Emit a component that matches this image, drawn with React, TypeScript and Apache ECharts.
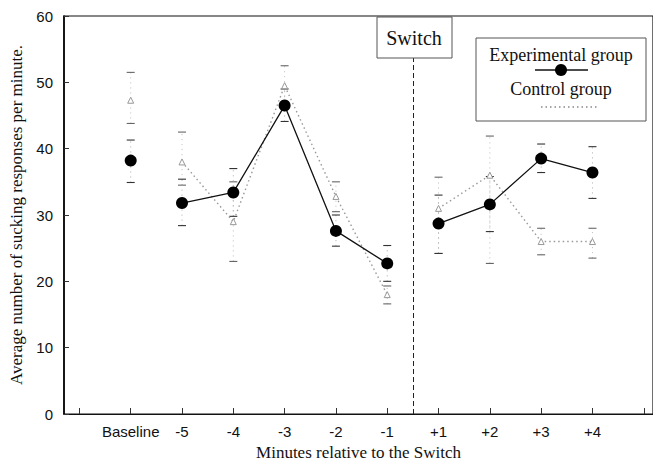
import React, { useEffect, useRef } from "react";
import * as echarts from "echarts";

// Category positions on the x scale (Baseline = 0, -5 = 1, ... -1 = 5, +1 = 6 ... +4 = 9)
const xPositions = [0, 1, 2, 3, 4, 5, 6, 7, 8, 9];
const xLabels = ["Baseline", "-5", "-4", "-3", "-2", "-1", "+1", "+2", "+3", "+4"];
const xTickValues = [-1, 0, 1, 2, 3, 4, 5, 6, 7, 8, 9, 10];
const switchAt = 5.5;

const experimental = [38.2, 31.8, 33.4, 46.5, 27.6, 22.7, 28.7, 31.6, 38.5, 36.4];
const expLow = [34.9, 28.4, 29.8, 44.1, 25.3, 20.0, 24.2, 27.5, 36.4, 32.5];
const expHigh = [41.3, 35.4, 37.0, 49.0, 30.0, 25.4, 33.0, 35.8, 40.7, 40.3];

const control = [47.3, 38.0, 29.0, 49.5, 32.8, 18.0, 31.0, 36.0, 26.0, 26.0];
const ctlLow = [43.8, 34.5, 23.0, 47.0, 30.5, 16.6, 24.2, 22.7, 24.0, 23.5];
const ctlHigh = [51.5, 42.5, 35.0, 52.5, 35.0, 19.3, 35.7, 41.9, 28.0, 28.0];

const serif = "'Liberation Serif', 'Times New Roman', serif";
const sans = "'Liberation Sans', Arial, sans-serif";

function withBreaks(vals: number[]) {
  const out: any[] = [];
  vals.forEach((v, i) => {
    out.push([xPositions[i], v]);
    if (i === 0) out.push([0.5, "-"]);
    if (i === 5) out.push([switchAt, "-"]);
  });
  return out;
}

function errData(lo: number[], hi: number[]) {
  return xPositions.map((x, i) => [x, lo[i], hi[i]]);
}

function errRender(color: string, dotColor: string) {
  return (params: any, api: any) => {
    const x = api.value(0);
    const pLo = api.coord([x, api.value(1)]);
    const pHi = api.coord([x, api.value(2)]);
    const w = 4;
    return {
      type: "group",
      children: [
        {
          type: "line",
          shape: { x1: pLo[0], y1: pLo[1], x2: pHi[0], y2: pHi[1] },
          style: { stroke: dotColor, lineWidth: 1, lineDash: [1, 4] },
        },
        {
          type: "line",
          shape: { x1: pLo[0] - w, y1: pLo[1], x2: pLo[0] + w, y2: pLo[1] },
          style: { stroke: color, lineWidth: 1.1 },
        },
        {
          type: "line",
          shape: { x1: pHi[0] - w, y1: pHi[1], x2: pHi[0] + w, y2: pHi[1] },
          style: { stroke: color, lineWidth: 1.1 },
        },
      ],
    };
  };
}

export default function App() {
  const ref = useRef<HTMLDivElement>(null);
  useEffect(() => {
    if (!ref.current) return;
    const chart = echarts.init(ref.current, undefined, { renderer: "svg" });
    const xMin = -1.3;
    const xMax = 10.18;
    chart.setOption({
      animation: false,
      backgroundColor: "#fff",
      grid: {
        left: 64,
        right: 0,
        top: 16,
        bottom: 46,
        show: true,
        borderColor: "#111",
        borderWidth: 1.2,
        backgroundColor: "transparent",
      },
      xAxis: {
        type: "value",
        min: xMin,
        max: xMax,
        splitLine: { show: false },
        axisLine: { show: true, onZero: false, lineStyle: { color: "#111", width: 1.2 } },
        axisTick: {
          show: true,
          inside: true,
          length: 6,
          customValues: xTickValues,
          lineStyle: { color: "#333" },
        },
        axisLabel: {
          customValues: xPositions,
          formatter: (v: number) => {
            const i = xPositions.indexOf(Math.round(v));
            return i >= 0 ? xLabels[i] : "";
          },
          fontFamily: sans,
          fontSize: 15,
          color: "#111",
          margin: 10,
        },
        name: "Minutes relative to the Switch",
        nameLocation: "middle",
        nameGap: 30,
        nameTextStyle: { fontFamily: serif, fontSize: 17, color: "#111" },
      },
      yAxis: {
        type: "value",
        position: "left",
        min: 0,
        max: 60,
        interval: 10,
        splitLine: { show: false },
        axisLine: { show: true, onZero: false, lineStyle: { color: "#000", width: 1.6 } },
        axisTick: { show: true, inside: true, length: 5, lineStyle: { color: "#333" } },
        axisLabel: { fontFamily: sans, fontSize: 15, color: "#111", margin: 11 },
        name: "Average number of sucking responses per minute.",
        nameLocation: "middle",
        nameRotate: 90,
        nameGap: 38,
        nameTextStyle: { fontFamily: serif, fontSize: 17, color: "#111" },
      },
      series: [
        {
          type: "custom",
          name: "ctlErr",
          renderItem: errRender("#666", "#bbb"),
          data: errData(ctlLow, ctlHigh),
          z: 1,
        },
        {
          type: "custom",
          name: "expErr",
          renderItem: errRender("#333", "#aaa"),
          data: errData(expLow, expHigh),
          z: 1,
        },
        {
          type: "line",
          name: "Control group",
          data: withBreaks(control),
          connectNulls: false,
          symbol: "triangle",
          symbolSize: 6,
          itemStyle: { color: "#fff", borderColor: "#999", borderWidth: 1 },
          lineStyle: { color: "#999", width: 1.4, type: [1.5, 3] },
          z: 2,
        },
        {
          type: "line",
          name: "Experimental group",
          data: withBreaks(experimental),
          connectNulls: false,
          symbol: "circle",
          symbolSize: 12,
          itemStyle: { color: "#000" },
          lineStyle: { color: "#111", width: 1.3 },
          z: 3,
          markLine: {
            silent: true,
            symbol: "none",
            label: { show: false },
            lineStyle: { type: [5, 3], color: "#222", width: 1 },
            data: [[{ coord: [switchAt, 0] }, { coord: [switchAt, 53.8] }]],
          },
        },
      ],
      graphic: [
        {
          type: "rect",
          shape: { x: 377, y: 17, width: 75, height: 41 },
          style: { fill: "#fff", stroke: "#555", lineWidth: 1 },
          z: 10,
        },
        {
          type: "text",
          x: 414,
          y: 38,
          style: {
            text: "Switch",
            font: `20px ${serif}`,
            fill: "#111",
            align: "center",
            verticalAlign: "middle",
          },
          z: 11,
        },
        {
          type: "rect",
          shape: { x: 476, y: 38, width: 170, height: 83 },
          style: { fill: "#fff", stroke: "#555", lineWidth: 1 },
          z: 10,
        },
        {
          type: "text",
          x: 561,
          y: 55,
          style: {
            text: "Experimental group",
            font: `18px ${serif}`,
            fill: "#111",
            align: "center",
            verticalAlign: "middle",
          },
          z: 11,
        },
        {
          type: "line",
          shape: { x1: 535, y1: 70, x2: 588, y2: 70 },
          style: { stroke: "#111", lineWidth: 1.3 },
          z: 11,
        },
        {
          type: "circle",
          shape: { cx: 561, cy: 70, r: 6 },
          style: { fill: "#000" },
          z: 12,
        },
        {
          type: "text",
          x: 561,
          y: 89,
          style: {
            text: "Control group",
            font: `18px ${serif}`,
            fill: "#111",
            align: "center",
            verticalAlign: "middle",
          },
          z: 11,
        },
        {
          type: "line",
          shape: { x1: 541, y1: 107, x2: 598, y2: 107 },
          style: { stroke: "#888", lineWidth: 1.5, lineDash: [1.5, 3] },
          z: 11,
        },
      ],
    });
    return () => chart.dispose();
  }, []);
  return (
    <div
      ref={ref}
      style={{ position: "fixed", left: 0, top: 0, width: 653, height: 466, background: "#fff" }}
    />
  );
}
